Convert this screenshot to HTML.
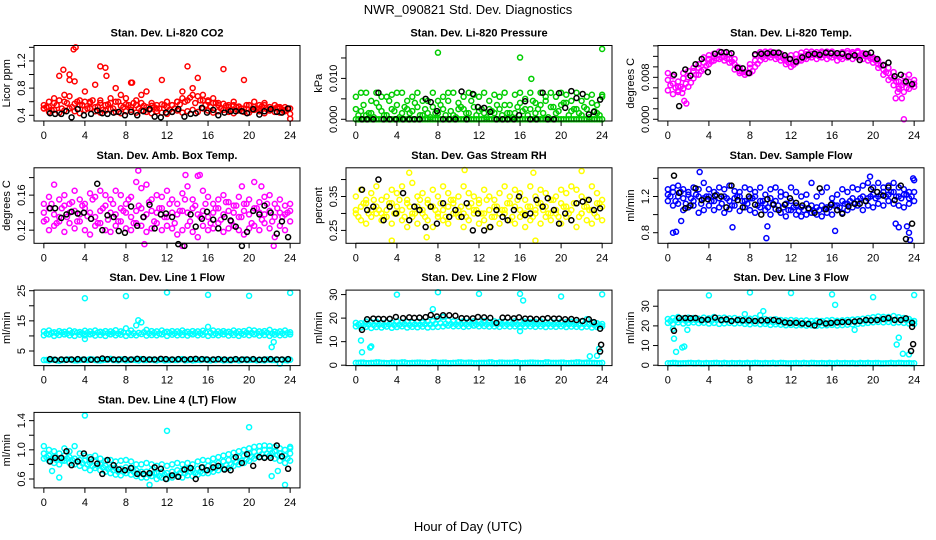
<!DOCTYPE html>
<html><head><meta charset="utf-8"><style>
body{margin:0;background:#fff;}
svg{display:block;font-family:"Liberation Sans",sans-serif;}
</style></head><body>
<svg id="chart" width="936" height="540" viewBox="0 0 936 540" xmlns="http://www.w3.org/2000/svg">
<text x="468" y="14" font-size="13" text-anchor="middle">NWR_090821  Std. Dev. Diagnostics</text>
<text x="468" y="531" font-size="13" text-anchor="middle">Hour of Day (UTC)</text>
</svg>
<script>
const hours=[0,0.5,1,1.5,2,2.5,3,3.5,4,4.5,5,5.5,6,6.5,7,7.5,8,8.5,9,9.5,10,10.5,11,11.5,12,12.5,13,13.5,14,14.5,15,15.5,16,16.5,17,17.5,18,18.5,19,19.5,20,20.5,21,21.5,22,22.5,23,23.5,24];
const hoursMid=[0.25,0.75,1.25,1.75,2.25,2.75,3.25,3.75,4.25,4.75,5.25,5.75,6.25,6.75,7.25,7.75,8.25,8.75,9.25,9.75,10.25,10.75,11.25,11.75,12.25,12.75,13.25,13.75,14.25,14.75,15.25,15.75,16.25,16.75,17.25,17.75,18.25,18.75,19.25,19.75,20.25,20.75,21.25,21.75,22.25,22.75,23.25,23.75];
const blackHours=[0.6,1.1,1.7,2.2,2.7,3.3,3.9,4.6,5.2,5.7,6.2,6.8,7.3,7.9,8.5,9.1,9.7,10.3,10.8,11.4,11.9,12.5,13.1,13.7,14.3,14.8,15.4,15.9,16.5,17.0,17.6,18.2,18.7,19.3,19.8,20.4,21.0,21.5,22.1,22.7,23.2,23.8];
const xTicks=[0,4,8,12,16,20,24];

const co2A=[0.5,0.45,0.48,0.44,0.47,0.5,0.46,0.43,0.48,0.5,0.46,0.44,0.47,0.49,0.45,0.43,0.46,0.48,0.44,0.47,0.45,0.43,0.46,0.44,0.42,0.45,0.47,0.44,0.46,0.48,0.45,0.5,0.47,0.44,0.46,0.48,0.45,0.43,0.47,0.45,0.44,0.48,0.46,0.43,0.47,0.45,0.44,0.46,0.42];
const co2B=[0.55,0.52,0.58,0.62,0.6,0.68,0.57,0.55,0.6,0.58,0.52,0.62,0.55,0.58,0.6,0.54,0.56,0.52,0.55,0.58,0.52,0.54,0.5,0.56,0.52,0.55,0.6,0.65,0.62,0.7,0.68,0.62,0.6,0.58,0.55,0.57,0.52,0.55,0.53,0.5,0.55,0.52,0.5,0.55,0.52,0.5,0.52,0.48,0.5];
const co2C=[0.5,0.6,0.65,0.98,0.7,1.0,0.9,0.62,0.75,0.6,0.85,0.58,1.1,0.65,0.8,0.7,0.65,0.88,0.62,0.7,0.75,0.58,0.55,0.92,0.6,0.55,0.6,0.75,1.12,0.8,0.95,0.7,0.62,0.65,0.58,1.08,0.55,0.6,0.52,0.92,0.55,0.6,0.55,0.58,0.52,0.55,0.5,0.52,0.35];
const co2D=[0.52,0.48,0.55,0.5,0.58,0.52,0.6,0.55,0.5,0.62,0.53,0.48,0.56,0.5,0.6,0.52,0.55,0.58,0.5,0.54,0.48,0.52,0.5,0.55,0.48,0.5,0.56,0.6,0.66,0.58,0.62,0.55,0.52,0.58,0.5,0.54,0.48,0.52,0.5,0.55,0.48,0.5,0.53,0.49,0.5,0.52,0.48,0.5];
const co2OutX=[2.9,3.1,5.5,6.1,8.6,1.9,2.5];
const co2OutY=[1.37,1.4,1.12,0.98,0.88,1.07,0.92];
const co2Black=[0.43,0.42,0.42,0.46,0.37,0.49,0.4,0.42,0.47,0.43,0.42,0.44,0.45,0.4,0.45,0.4,0.46,0.49,0.38,0.37,0.44,0.45,0.49,0.38,0.42,0.43,0.51,0.44,0.48,0.4,0.44,0.46,0.46,0.46,0.43,0.49,0.41,0.46,0.49,0.45,0.44,0.5];

const presA=[0,0,0,0,0,0,0,0,0,0,0,0,0,0,0,0,0,0,0,0,0,0,0,0,0,0,0,0,0,0,0,0,0,0,0,0,0,0,0,0,0,0,0,0,0,0,0,0,0];
const presB=[0.0055,0.002,0.0065,0.0015,0.004,0.002,0.0055,0.006,0.0035,0.0065,0.0045,0.002,0.0065,0.001,0.0045,0.003,0.0015,0.0055,0.0045,0.0065,0.004,0.0025,0.0065,0.003,0.0055,0.0015,0.0045,0.006,0.0025,0.0065,0.0035,0.0015,0.0065,0.005,0.0025,0.004,0.0065,0.0045,0.003,0.0055,0.0065,0.004,0.002,0.0065,0.0045,0.0025,0.006,0.0035,0.0055];
const presC=[0.0025,0.0065,0.001,0.0045,0.0065,0.0055,0.001,0.0025,0.0065,0.0015,0.0025,0.0055,0.003,0.0045,0.0015,0.0065,0.0045,0.0025,0.0065,0.001,0.0025,0.0055,0.0015,0.006,0.002,0.0065,0.0025,0.0015,0.0055,0.0035,0.0015,0.006,0.004,0.0025,0.0065,0.0015,0.0035,0.0055,0.0065,0.0015,0.0035,0.006,0.0045,0.0025,0.001,0.0055,0.004,0.0015,0.006];
const presD=[0,0,0,0,0,0,0,0,0,0,0,0,0,0,0,0,0,0,0,0,0,0,0,0,0,0,0,0,0,0,0,0,0,0,0,0,0,0,0,0,0,0,0,0,0,0,0,0];
const presE=[0.001,0.0035,0.0015,0.0005,0.003,0.001,0.0045,0.002,0.0005,0.003,0.0015,0.004,0.001,0.0025,0.0005,0.0015,0.0035,0.001,0.002,0.0005,0.003,0.0015,0.0045,0.001,0.0025,0.0005,0.002,0.0035,0.001,0.0015,0.0005,0.003,0.002,0.001,0.0045,0.0025,0.0015,0.0005,0.003,0.002,0.004,0.001,0.0025,0.0015,0.003,0.0005,0.002,0.001];
const presOutX=[8,16,17.1,24];
const presOutY=[0.0163,0.0151,0.0099,0.0172];
const presBlack=[0,0,0,0.0065,0,0,0,0,0,0,0,0.005,0.0042,0.002,0,0,0,0.0068,0,0.0062,0.003,0.0028,0.0018,0,0,0,0,0.001,0.0044,0,0,0.0065,0,0,0.0064,0.0028,0.0069,0.0052,0.0062,0.0012,0.0018,0.0048];

const tempA=[0.0055,0.0048,0.0052,0.0058,0.0062,0.0078,0.0085,0.0095,0.0105,0.0112,0.0115,0.0112,0.0108,0.0095,0.0088,0.0085,0.0088,0.01,0.0112,0.0115,0.0118,0.0115,0.0112,0.0105,0.01,0.0108,0.0112,0.0115,0.0118,0.0115,0.0118,0.0115,0.0118,0.0112,0.0115,0.0118,0.0115,0.0118,0.0115,0.0112,0.0108,0.0098,0.0085,0.0075,0.0065,0.0058,0.0052,0.0058,0.0062];
const tempB=[0.0075,0.0068,0.0072,0.0078,0.008,0.0092,0.0098,0.0108,0.0115,0.012,0.0122,0.012,0.0115,0.0105,0.0092,0.009,0.0098,0.0112,0.0122,0.0125,0.0125,0.0122,0.012,0.0112,0.0108,0.0115,0.012,0.0124,0.0125,0.0124,0.0126,0.0125,0.0126,0.0122,0.0125,0.0126,0.0125,0.0127,0.0124,0.012,0.0115,0.0105,0.0095,0.0088,0.0078,0.0072,0.007,0.0072,0.0075];
const tempC=[0.0088,0.0082,0.0062,0.0088,0.0092,0.0098,0.0105,0.0118,0.0122,0.0125,0.0129,0.0127,0.0124,0.0115,0.0098,0.0085,0.0105,0.0122,0.0128,0.0129,0.0129,0.0127,0.0125,0.0118,0.0122,0.0124,0.0127,0.0129,0.0129,0.0128,0.0129,0.0129,0.0129,0.0126,0.0128,0.013,0.0128,0.013,0.0126,0.0124,0.0118,0.0112,0.0104,0.0098,0.009,0.0062,0.0082,0.0085,0.0068];
const tempD=[0.0065,0.006,0.0062,0.0068,0.007,0.0085,0.0092,0.0102,0.011,0.0116,0.0118,0.0116,0.011,0.01,0.009,0.0088,0.0092,0.0106,0.0118,0.012,0.0122,0.0118,0.0116,0.0108,0.0104,0.0112,0.0116,0.012,0.0122,0.012,0.0122,0.012,0.0122,0.0118,0.012,0.0122,0.012,0.0122,0.012,0.0116,0.0112,0.0102,0.009,0.008,0.0072,0.0065,0.006,0.0065];
const tempOutX=[1.0,1.4,1.6,1.8,22.2,22.8,23,22.4];
const tempOutY=[0.0055,0.005,0.0035,0.003,0.004,0.004,0.0,0.0052];
const tempBlack=[0.0085,0.0025,0.0095,0.0083,0.0105,0.0115,0.009,0.0125,0.0128,0.0128,0.0126,0.0098,0.0097,0.0088,0.0124,0.0125,0.0126,0.0127,0.0127,0.0122,0.0115,0.011,0.0118,0.0123,0.0125,0.0123,0.0127,0.0126,0.0126,0.0125,0.012,0.0122,0.0113,0.0125,0.0127,0.0115,0.0103,0.0108,0.0082,0.0085,0.0072,0.0067];

const boxA=[0.13,0.12,0.125,0.13,0.118,0.128,0.122,0.13,0.12,0.115,0.125,0.128,0.12,0.118,0.125,0.13,0.122,0.12,0.128,0.125,0.118,0.122,0.128,0.12,0.125,0.122,0.115,0.12,0.125,0.118,0.112,0.125,0.12,0.122,0.128,0.118,0.122,0.125,0.12,0.115,0.122,0.125,0.12,0.128,0.122,0.112,0.125,0.12,0.13];
const boxB=[0.14,0.145,0.138,0.135,0.148,0.14,0.142,0.138,0.145,0.14,0.135,0.142,0.148,0.14,0.138,0.145,0.14,0.135,0.142,0.145,0.138,0.142,0.14,0.145,0.135,0.14,0.138,0.142,0.14,0.145,0.138,0.142,0.135,0.14,0.145,0.138,0.142,0.14,0.135,0.142,0.138,0.145,0.14,0.138,0.142,0.135,0.14,0.138,0.142];
const boxC=[0.15,0.158,0.172,0.155,0.16,0.15,0.165,0.155,0.15,0.162,0.158,0.165,0.16,0.155,0.165,0.16,0.15,0.158,0.175,0.168,0.172,0.155,0.16,0.158,0.165,0.155,0.15,0.162,0.17,0.155,0.182,0.165,0.158,0.15,0.155,0.16,0.152,0.148,0.158,0.15,0.155,0.175,0.152,0.158,0.16,0.15,0.155,0.148,0.15];
const boxD=[0.132,0.15,0.128,0.145,0.135,0.152,0.13,0.148,0.136,0.155,0.128,0.145,0.132,0.15,0.13,0.142,0.155,0.128,0.148,0.135,0.152,0.13,0.145,0.135,0.15,0.128,0.142,0.155,0.13,0.148,0.135,0.15,0.128,0.145,0.132,0.152,0.13,0.148,0.135,0.15,0.128,0.145,0.132,0.15,0.13,0.145,0.135,0.14];
const boxOutX=[9.2,13.8,15.2,19.3,21.2,9.8,22.4,13.5];
const boxOutY=[0.188,0.183,0.183,0.17,0.17,0.104,0.102,0.102];
const boxBlack=[0.145,0.145,0.134,0.138,0.141,0.139,0.14,0.133,0.173,0.12,0.137,0.135,0.119,0.117,0.147,0.125,0.135,0.149,0.122,0.138,0.139,0.135,0.104,0.102,0.138,0.124,0.133,0.141,0.132,0.122,0.135,0.131,0.124,0.102,0.118,0.142,0.138,0.148,0.14,0.116,0.13,0.112];

const rhA=[0.3,0.28,0.27,0.29,0.3,0.28,0.29,0.27,0.3,0.28,0.26,0.29,0.27,0.3,0.28,0.26,0.29,0.28,0.27,0.3,0.29,0.26,0.28,0.3,0.27,0.28,0.26,0.29,0.27,0.3,0.28,0.27,0.29,0.26,0.28,0.3,0.27,0.29,0.28,0.3,0.27,0.29,0.28,0.26,0.3,0.28,0.27,0.29,0.28];
const rhB=[0.31,0.32,0.33,0.31,0.32,0.3,0.31,0.33,0.32,0.31,0.33,0.3,0.32,0.31,0.33,0.32,0.3,0.31,0.32,0.33,0.31,0.3,0.32,0.31,0.33,0.3,0.31,0.32,0.3,0.31,0.33,0.32,0.31,0.3,0.32,0.31,0.33,0.32,0.3,0.31,0.33,0.32,0.31,0.33,0.3,0.32,0.31,0.33,0.32];
const rhC=[0.35,0.37,0.34,0.36,0.38,0.34,0.35,0.37,0.36,0.38,0.34,0.39,0.35,0.36,0.34,0.37,0.35,0.38,0.36,0.34,0.35,0.38,0.36,0.35,0.34,0.37,0.35,0.34,0.36,0.38,0.35,0.37,0.36,0.34,0.38,0.35,0.37,0.36,0.34,0.35,0.37,0.36,0.38,0.37,0.35,0.34,0.38,0.36,0.34];
const rhD=[0.29,0.33,0.3,0.34,0.31,0.29,0.33,0.3,0.34,0.29,0.32,0.3,0.34,0.29,0.32,0.31,0.33,0.29,0.34,0.3,0.32,0.29,0.33,0.31,0.3,0.34,0.29,0.32,0.31,0.33,0.29,0.34,0.3,0.32,0.29,0.33,0.31,0.3,0.34,0.29,0.32,0.3,0.33,0.29,0.32,0.31,0.3,0.33];
const rhOutX=[3.5,10.6,17.3,22,5.2,17.5,6.9];
const rhOutY=[0.22,0.428,0.42,0.425,0.42,0.22,0.23];
const rhBlack=[0.37,0.31,0.32,0.4,0.28,0.32,0.3,0.36,0.28,0.32,0.31,0.26,0.32,0.27,0.33,0.29,0.31,0.29,0.33,0.25,0.3,0.25,0.26,0.31,0.29,0.28,0.31,0.35,0.295,0.3,0.34,0.32,0.345,0.31,0.27,0.3,0.28,0.33,0.335,0.34,0.31,0.315];

const sfA=[1.15,1.1,1.12,1.05,1.08,1.1,1.02,1.05,1.1,1.05,1.08,1.02,1.06,1.1,1.04,1.08,1.05,1.02,1.08,1.05,1.0,1.06,1.02,0.98,1.05,1.0,0.98,1.0,1.02,1.0,0.98,1.02,1.0,1.05,1.02,1.05,1.08,1.1,1.05,1.1,1.08,1.12,1.1,1.15,1.12,1.1,1.08,1.12,1.15];
const sfB=[1.22,1.25,1.2,1.18,1.22,1.15,1.2,1.18,1.2,1.15,1.18,1.2,1.15,1.18,1.2,1.15,1.18,1.2,1.15,1.12,1.18,1.15,1.2,1.12,1.15,1.1,1.08,1.12,1.1,1.08,1.1,1.08,1.12,1.1,1.15,1.12,1.18,1.15,1.2,1.18,1.22,1.2,1.25,1.22,1.25,1.2,1.22,1.18,1.25];
const sfC=[1.28,1.3,1.32,1.28,1.25,1.3,1.28,1.35,1.28,1.25,1.3,1.28,1.32,1.26,1.25,1.3,1.28,1.25,1.3,1.22,1.28,1.3,1.25,1.22,1.3,1.25,1.2,1.22,1.35,1.2,1.25,1.3,1.18,1.22,1.28,1.25,1.3,1.28,1.32,1.35,1.3,1.35,1.3,1.32,1.35,1.3,1.28,1.25,1.38];
const sfD=[1.2,1.15,1.25,1.12,1.18,1.22,1.12,1.2,1.15,1.22,1.12,1.18,1.1,1.2,1.15,1.12,1.18,1.1,1.15,1.08,1.12,1.1,1.08,1.05,1.08,1.04,1.05,1.06,1.04,1.05,1.06,1.08,1.1,1.08,1.12,1.15,1.12,1.18,1.15,1.2,1.18,1.22,1.2,1.25,1.2,1.18,1.22,1.2];
const sfOutX=[0.5,0.8,1.3,3.1,6.3,9.6,9.7,16.3,22.2,22.5,23.3,23.6,23.5,23.9,19.7];
const sfOutY=[0.8,0.81,0.93,1.47,0.86,0.74,0.87,0.82,0.9,0.86,0.87,0.72,0.8,1.4,1.42];
const sfBlack=[1.43,1.24,1.07,1.1,1.29,1.16,1.17,1.21,1.2,1.08,1.32,1.16,1.08,1.2,1.11,1.0,1.17,1.11,1.05,1.11,1.18,1.13,1.1,1.07,1.02,1.29,1.06,1.11,1.05,1.01,1.09,1.12,1.12,1.15,1.28,1.25,1.21,1.3,1.16,1.32,0.73,0.9];

const l1A=[10.2,10.5,10,10.3,10.5,10.2,10,10.4,10.2,10.5,10.1,10.3,10,10.5,10.2,10.4,10,10.3,10.2,10.6,10.1,10.3,10.2,10.5,10,10.4,10.2,10.3,10.1,10.5,10.2,10.4,10,10.3,10.2,10.5,10.1,10.3,10,10.4,10.2,10.5,10.1,10.3,10,10.4,10.2,10.3,10.5];
const l1B=[11.5,11.8,11.2,11.6,11.4,11.8,11.5,11.3,11.7,11.5,11.8,11.4,11.6,11.5,11.9,11.5,12.5,11.8,13.5,14.5,12,11.6,11.5,11.8,11.4,11.6,11.5,11.8,11.4,11.6,11.5,11.7,13,11.8,11.5,11.6,11.4,11.8,11.5,11.6,12,11.8,11.5,11.6,12,11.4,11.5,11.8,11.2];
const l1C=[2,1.9,2.1,1.8,2,2.2,1.9,2,2.1,2.3,2,1.9,2.1,2.4,2,2.2,1.9,2.1,2,2.3,2,2.1,1.9,2.2,2,2.1,2,2.3,2,1.9,2.1,2.2,2,2.1,2.3,1.9,2,2.1,1.9,2.2,2,2.1,2,1.9,2.1,2,0.8,2,2.1];
const l1D=[10.8,11,10.9,11.1,10.8,11,11.1,10.9,11,10.8,11.1,11,10.9,11,10.8,11.1,11,10.9,11,11.2,10.9,11,10.8,11.1,11,10.9,11,11.1,10.8,11,10.9,11.1,11,10.8,11,11.1,10.9,11,10.8,11.1,11,10.9,11,11.1,10.8,11,10.9,11];
const l1E=[2,2.1,1.9,2,2.2,2,1.9,2.1,2,2.2,1.9,2,2.1,2,1.9,2.2,2,2.1,1.9,2,2.2,2,2.1,1.9,2,2,2.2,1.9,2.1,2,2,2.2,1.9,2,2.1,2,1.9,2.2,2,2,2.1,1.9,2,2.2,2,2.1,2,1.9];
const l1OutX=[4,8,12,16,20,24,4,9.2,22.2,22.4];
const l1OutY=[22.5,23.2,24.4,23.6,23.3,24.3,9,15.2,6.3,8];
const l1Black=[2.3,2.1,2.2,2.1,2.2,2.3,2.2,2.1,2.2,2.5,2.3,2.2,2.2,2.3,2.2,2.4,2.3,2.2,2.2,2.4,2.3,2.2,2.3,2.2,2.3,2.4,2.3,2.2,2.2,2.3,2.2,2.1,2.3,2.2,2.2,2.3,2.1,2.2,2.3,2.2,2.2,2.3];

const l2A=[16.5,16,16.3,15.8,16.2,16,16.4,15.9,16.2,16.5,16,16.3,16.1,16.4,16,16.2,16.3,16.5,16.8,16.5,16.6,16.3,16.5,16.8,16.5,16.6,16.4,16.5,16.3,16.6,16.4,16.5,16.2,16.4,16.5,16.3,16.5,16.2,16.4,16.3,16.5,16.2,16.4,16.3,16.1,16.4,16,16.2,16.5];
const l2B=[18,17.8,18.5,18.2,18.5,18,18.3,18.1,18.6,18.2,18.4,18.1,18.5,18.2,18.6,18.8,19.5,20.5,19,18.6,18.5,18.7,18.4,18.6,18.5,18.7,18.3,18.6,18.4,18.5,18.3,18.6,18.4,18.5,18.3,18.4,18.6,18.3,18.5,18.2,18.4,18.3,18.5,18.2,18.6,19.5,18.3,17.8,17.5];
const l2C=[1,1.1,0.9,1,1.2,1,0.9,1.1,1,1.2,0.9,1,1.1,1,0.9,1.2,1,1.1,0.9,1,1.2,1,1.1,0.9,1,1,1.2,0.9,1.1,1,1,1.2,0.9,1,1.1,1,0.9,1.2,1,1,1.1,0.9,1,1.2,1,1.1,1,0.9,1];
const l2D=[17.2,17,17.3,17.1,17.2,17,17.3,17.1,17.2,17.4,17.1,17.3,17.2,17.4,17.3,17.5,17.8,17.6,17.5,17.4,17.5,17.3,17.5,17.4,17.6,17.4,17.5,17.3,17.5,17.4,17.5,17.3,17.4,17.5,17.3,17.4,17.3,17.5,17.3,17.4,17.2,17.4,17.3,17.2,17.4,17.3,17.1,17];
const l2E=[1,1.1,0.9,1,1.2,1,0.9,1.1,1,1.2,0.9,1,1.1,1,0.9,1.2,1,1.1,0.9,1,1.2,1,1.1,0.9,1,1,1.2,0.9,1.1,1,1,1.2,0.9,1,1.1,1,0.9,1.2,1,1,1.1,0.9,1,1.2,1,1.1,1,0.9];
const l2OutX=[0.5,0.6,1.4,1.5,4,8,12,16,16.3,20,24,7.5,16,22.8,23.5,23.7];
const l2OutY=[10.5,5.5,7.5,8,30,31,30.3,30.3,27.5,29.2,30.1,23.8,14.5,3.8,4,7];
const l2Black=[15,19.5,19.8,19.7,19.6,19.7,20.5,20,20.3,20.1,20.2,20.4,21.3,20.7,21.2,21.2,21,20,19.9,19.9,20.5,20.3,20.1,18,20.2,20.2,19.9,20.3,19.8,19.8,19.6,19.7,20,19.8,19.8,19.5,19.6,19.2,18.8,19.5,18.3,15.5];
const l2BlackOutX=[23.9,23.8];
const l2BlackOutY=[8.7,5.8];

const l3A=[21.5,21,21.8,21.2,21.5,21.8,21.4,21.6,21.2,21.5,21,21.3,21.5,21.2,21.4,21,20.8,21.2,20.8,21,20.5,20.8,20.6,20.3,20.5,20.2,20.4,20.1,20.3,20,20.2,20.3,20.5,20.2,20.4,20.6,20.8,21,21.2,21.5,21.8,22,21.8,22,21.5,21.8,21.5,21.2,21];
const l3B=[23.5,24,24.5,23.8,24.2,24,23.6,24.2,23.8,24.5,24,24.2,23.8,24,23.5,23.2,23.6,24,25.5,23.5,23.2,23.4,23,22.8,23,22.8,22.6,22.8,22.5,22.7,22.5,22.8,23,22.6,22.8,23,23.2,23.4,23.6,24,24.4,24.8,24.6,24.5,25,24.4,24,23.5,22.5];
const l3C=[1,1.2,0.9,1,1.1,1,1.2,0.9,1,1.1,1,1.2,0.9,1,1.1,1,0.9,1.2,1,1.1,1,0.9,1.2,1,1,1.1,0.9,1,1.2,1,1.1,0.9,1,1.2,1,1,1.1,0.9,1,1.2,1,1.1,0.9,1,1,1.2,1,1.1,1];
const l3D=[22.5,22.8,23,22.6,22.8,22.9,22.5,22.9,22.6,23,22.6,22.8,22.6,22.7,22.3,22.1,22.3,22.5,22.1,22,21.8,21.8,21.6,21.5,21.6,21.5,21.4,21.4,21.4,21.3,21.4,21.6,21.5,21.6,21.8,22,22.1,22.3,22.5,22.8,23.1,23.3,23.2,23.2,23.3,23,22.8,22.3];
const l3E=[1,1.1,0.9,1,1.2,1,0.9,1.1,1,1.2,0.9,1,1.1,1,0.9,1.2,1,1.1,0.9,1,1.2,1,1.1,0.9,1,1,1.2,0.9,1.1,1,1,1.2,0.9,1,1.1,1,0.9,1.2,1,1,1.1,0.9,1,1.2,1,1.1,1,0.9];
const l3OutX=[0.5,0.6,0.8,1.4,1.6,1.9,4,8,12,16,16.3,18.2,20,24,22.3,22.5,22.9,23.5,9.3,7.5];
const l3OutY=[18.5,13.5,6.8,9,9.5,18,35.5,37,36.7,36,30.7,18,34.6,35.7,10.5,14,5.8,5.5,27.5,26];
const l3Black=[17.5,24,24,23.9,24,23,23.2,24.2,23,23.3,22.5,23,22.8,22.8,22.5,22.8,22.8,23,22.5,21.8,21.5,21.6,21.2,21,20.2,22,21.2,21.5,21.8,22,22,22.2,22.5,23,22.8,23,23.5,24,23,23,23.8,21.5];
const l3BlackOutX=[23.8,23.9,23.7];
const l3BlackOutY=[19.5,10.7,7.2];

const l4A=[0.88,0.85,0.82,0.8,0.85,0.82,0.8,0.78,0.75,0.72,0.75,0.72,0.7,0.68,0.66,0.65,0.68,0.66,0.64,0.62,0.62,0.64,0.6,0.62,0.6,0.62,0.64,0.62,0.65,0.64,0.66,0.68,0.68,0.7,0.72,0.74,0.75,0.78,0.8,0.82,0.85,0.88,0.9,0.9,0.92,0.88,0.85,0.82,0.85];
const l4B=[0.95,0.92,0.9,0.88,0.92,0.9,0.88,0.86,0.85,0.82,0.84,0.8,0.78,0.76,0.75,0.74,0.76,0.74,0.72,0.7,0.7,0.72,0.68,0.7,0.68,0.7,0.72,0.72,0.74,0.72,0.74,0.76,0.78,0.8,0.82,0.84,0.86,0.88,0.9,0.92,0.95,0.97,0.98,1.0,1.0,0.98,0.95,0.92,0.95];
const l4C=[1.05,1.0,0.98,0.95,1.02,0.98,1.05,0.95,0.92,0.9,0.92,0.88,0.85,0.86,0.84,0.85,0.86,0.84,0.8,0.8,0.82,0.8,0.78,0.8,0.78,0.8,0.82,0.8,0.82,0.8,0.84,0.86,0.85,0.88,0.9,0.92,0.94,0.96,0.98,1.0,1.02,1.04,1.05,1.06,1.05,1.04,1.02,1.0,1.02];
const l4D=[0.9,0.88,0.86,0.85,0.88,0.86,0.84,0.82,0.8,0.78,0.78,0.76,0.74,0.72,0.7,0.7,0.72,0.7,0.68,0.66,0.66,0.68,0.64,0.66,0.64,0.66,0.68,0.68,0.7,0.68,0.7,0.72,0.73,0.75,0.77,0.79,0.8,0.83,0.85,0.87,0.9,0.92,0.94,0.95,0.96,0.93,0.9,0.88];
const l4OutX=[0.8,1.5,4,12,20,22.2,22.8,23.5,10.3,24];
const l4OutY=[0.71,0.62,1.47,1.26,1.31,0.64,0.71,0.52,0.52,1.04];
const l4Black=[0.84,0.89,0.89,0.98,0.79,0.84,0.95,0.87,0.81,0.67,0.86,0.79,0.73,0.72,0.75,0.67,0.67,0.68,0.76,0.74,0.6,0.65,0.63,0.73,0.75,0.6,0.76,0.72,0.76,0.78,0.73,0.72,0.9,0.82,0.94,0.78,0.9,0.89,0.89,1.06,0.91,0.74];

const co2Ticks=[0.4,0.6,0.8,1.0,1.2,1.4], co2Labels=["0.4","","0.8","","1.2",""];
const presTicks=[0,0.005,0.01,0.015], presLabels=["0.000","","0.010",""];
const tempTicks=[0,0.002,0.004,0.006,0.008,0.010,0.012,0.014], tempLabels=["0.000","","","","0.008","","",""];
const boxTicks=[0.12,0.14,0.16,0.18], boxLabels=["0.12","","0.16",""];
const rhTicks=[0.25,0.30,0.35,0.40], rhLabels=["0.25","","0.35",""];
const sfTicks=[0.8,1.0,1.2,1.4], sfLabels=["0.8","","1.2",""];
const l1Ticks=[5,10,15,20,25], l1Labels=["5","","15","","25"];
const l2Ticks=[0,10,20,30], l2Labels=["0","10","20","30"];
const l3Ticks=[0,10,20,30], l3Labels=["0","10","20","30"];
const l4Ticks=[0.6,0.8,1.0,1.2,1.4], l4Labels=["0.6","","1.0","","1.4"];

const panels=[
 {name:"co2",title:"Stan. Dev. Li-820 CO2",ylab:"Licor ppm",col:"#ff0000",ymin:0.316,ymax:1.427,series:[co2A,co2B,co2C],mid:[co2D],ox:co2OutX,oy:co2OutY,black:co2Black,ticks:co2Ticks,labels:co2Labels},
 {name:"pressure",title:"Stan. Dev. Li-820 Pressure",ylab:"kPa",col:"#00cd00",ymin:-0.00042,ymax:0.01805,series:[presA,presB,presC],mid:[presD,presE],ox:presOutX,oy:presOutY,black:presBlack,ticks:presTicks,labels:presLabels},
 {name:"temp",title:"Stan. Dev. Li-820 Temp.",ylab:"degrees C",col:"#ff00ff",ymin:-0.00033,ymax:0.01407,series:[tempA,tempB,tempC],mid:[tempD],ox:tempOutX,oy:tempOutY,black:tempBlack,ticks:tempTicks,labels:tempLabels},
 {name:"box-temp",title:"Stan. Dev. Amb. Box Temp.",ylab:"degrees C",col:"#ff00ff",ymin:0.105,ymax:0.1912,series:[boxA,boxB,boxC],mid:[boxD],ox:boxOutX,oy:boxOutY,black:boxBlack,ticks:boxTicks,labels:boxLabels},
 {name:"rh",title:"Stan. Dev. Gas Stream RH",ylab:"percent",col:"#ffff00",ymin:0.212,ymax:0.4346,series:[rhA,rhB,rhC],mid:[rhD],ox:rhOutX,oy:rhOutY,black:rhBlack,ticks:rhTicks,labels:rhLabels},
 {name:"sample-flow",title:"Stan. Dev. Sample Flow",ylab:"ml/min",col:"#0000ff",ymin:0.683,ymax:1.517,series:[sfA,sfB,sfC],mid:[sfD],ox:sfOutX,oy:sfOutY,black:sfBlack,ticks:sfTicks,labels:sfLabels},
 {name:"line1",title:"Stan. Dev. Line 1 Flow",ylab:"ml/min",col:"#00ffff",ymin:0.16,ymax:25.2,series:[l1A,l1B,l1C],mid:[l1D,l1E],ox:l1OutX,oy:l1OutY,black:l1Black,ticks:l1Ticks,labels:l1Labels},
 {name:"line2",title:"Stan. Dev. Line 2 Flow",ylab:"ml/min",col:"#00ffff",ymin:-0.17,ymax:31.9,series:[l2A,l2B,l2C],mid:[l2D,l2E],ox:l2OutX,oy:l2OutY,black:l2Black,bx:l2BlackOutX,by:l2BlackOutY,ticks:l2Ticks,labels:l2Labels},
 {name:"line3",title:"Stan. Dev. Line 3 Flow",ylab:"ml/min",col:"#00ffff",ymin:-0.2,ymax:38.2,series:[l3A,l3B,l3C],mid:[l3D,l3E],ox:l3OutX,oy:l3OutY,black:l3Black,bx:l3BlackOutX,by:l3BlackOutY,ticks:l3Ticks,labels:l3Labels},
 {name:"line4",title:"Stan. Dev. Line 4 (LT) Flow",ylab:"ml/min",col:"#00ffff",ymin:0.478,ymax:1.513,series:[l4A,l4B,l4C],mid:[l4D],ox:l4OutX,oy:l4OutY,black:l4Black,ticks:l4Ticks,labels:l4Labels}
];

const NS="http://www.w3.org/2000/svg";
const svg=document.getElementById('chart');
function mk(tag,attrs,parent){const e=document.createElementNS(NS,tag);for(const k in attrs)e.setAttribute(k,attrs[k]);(parent||svg).appendChild(e);return e;}
const BW=266,BH=75.5,XMIN=-0.96,XMAX=24.96,R=2.5;

panels.forEach((p,i)=>{
  const col=i%3,row=Math.floor(i/3);
  const L=34+col*312,T=45.5+row*122.3;
  const xs=v=>L+(v-XMIN)/(XMAX-XMIN)*BW;
  const ys=v=>T+BH-(v-p.ymin)/(p.ymax-p.ymin)*BH;
  const g=mk('g',{});
  
  
  const t=mk('text',{x:L+BW/2,y:T-9,'font-size':11,'font-weight':'bold','text-anchor':'middle'},g);
  t.textContent=p.title;
  
  
  const yl=mk('text',{transform:`translate(${L-24},${T+BH/2}) rotate(-90)`,'font-size':11,'text-anchor':'middle'},g);
  yl.textContent=p.ylab;
  
  
  const pts=mk('g',{fill:'none','stroke-width':1.5},g);
  
  
  p.series.forEach(s=>{s.forEach((v,j)=>{
    const c=mk('circle',{cx:xs(hours[j]),cy:ys(v),r:R,stroke:p.col},pts);
    
    
  });});
  p.mid.forEach(s=>{s.forEach((v,j)=>{
    const c=mk('circle',{cx:xs(hoursMid[j]),cy:ys(v),r:R,stroke:p.col},pts);
    
    
  });});
  p.ox.forEach((x,j)=>{
    const c=mk('circle',{cx:xs(x),cy:ys(p.oy[j]),r:R,stroke:p.col},pts);
    
    
  });
  p.black.forEach((v,j)=>{
    const c=mk('circle',{cx:xs(blackHours[j]),cy:ys(v),r:R,stroke:'#000'},pts);
    
    
  });
  if(p.bx)p.bx.forEach((x,j)=>{
    const c=mk('circle',{cx:xs(x),cy:ys(p.by[j]),r:R,stroke:'#000'},pts);
    
    
  });
  const box=mk('rect',{x:L,y:T,width:BW,height:BH,fill:'none',stroke:'#000','stroke-width':1},g);
  
  
  mk('line',{x1:xs(0),x2:xs(24),y1:T+BH,y2:T+BH,stroke:'#000'},g);
  xTicks.forEach(v=>{
    mk('line',{x1:xs(v),x2:xs(v),y1:T+BH,y2:T+BH+5,stroke:'#000'},g);
    const tl=mk('text',{x:xs(v),y:T+BH+18,'font-size':11,'text-anchor':'middle'},g);
    tl.textContent=v;
    
    
  });
  mk('line',{x1:L,x2:L,y1:ys(p.ticks[0]),y2:ys(p.ticks[p.ticks.length-1]),stroke:'#000'},g);
  p.ticks.forEach((v,j)=>{
    mk('line',{x1:L-5,x2:L,y1:ys(v),y2:ys(v),stroke:'#000'},g);
    if(p.labels[j]){
      const tl=mk('text',{transform:`translate(${L-9},${ys(v)}) rotate(-90)`,'font-size':11,'text-anchor':'middle'},g);
      tl.textContent=p.labels[j];
      
      
    }
  });
});
</script>
</body></html>
